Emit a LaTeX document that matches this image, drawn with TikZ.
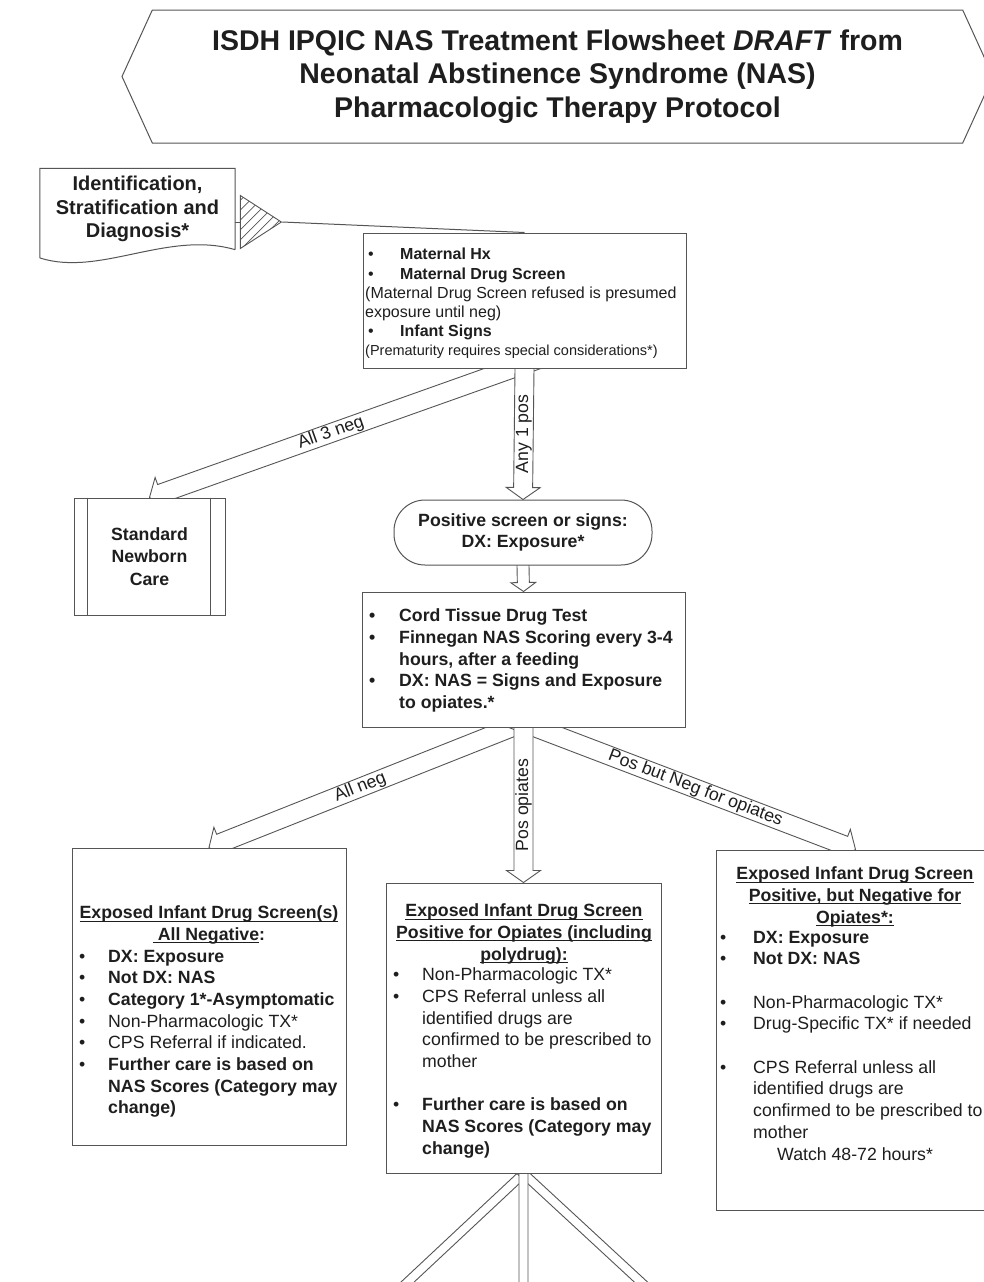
\documentclass[tikz,border=0pt]{standalone}
\usepackage{fontspec}
\setmainfont{Liberation Sans}
\usetikzlibrary{calc,backgrounds,shapes.geometric,shapes.symbols,patterns.meta}
\definecolor{ink}{HTML}{1E1E1E}
\definecolor{edge}{HTML}{555555}
\newcommand{\boxfont}{\fontsize{17.7pt}{21.7pt}\selectfont}
\newcommand{\bitem}[2][29pt]{\makebox[#1][l]{\textbullet}#2}
\newcommand{\bcont}[2][29pt]{\makebox[#1]{}#2}
\newlength{\ulwd}
\newcommand{\ul}[1]{\settowidth{\ulwd}{#1}\rlap{\rule[-3pt]{\ulwd}{1.1pt}}#1}
% wide hollow arrow: from, to, shaft half width, head half width, head length
\newcommand{\widearrow}[5]{%
  \coordinate (wabk) at ($(#1)!-40pt!(#2)$);
  \coordinate (wahd) at ($(#2)!#5!(#1)$);
  \draw[hollow] ($(wabk)!#3!90:(#2)$) -- ($(wahd)!#3!90:(#2)$)
    -- ($(wahd)!#4!90:(#2)$) -- (#2) -- ($(wahd)!#4!-90:(#2)$)
    -- ($(wahd)!#3!-90:(#2)$) -- ($(wabk)!#3!-90:(#2)$) -- cycle;}

\begin{document}
\begin{tikzpicture}[x=1pt,y=-1pt,
  box/.style={draw=edge,line width=1pt,fill=white,inner sep=0pt,text=ink},
  txt/.style={inner sep=0pt,align=left,text=ink,font=\boxfont},
  head/.style={inner sep=0pt,align=center,text=ink,font=\boxfont\bfseries},
  lbl/.style={inner sep=0pt,text=ink,font=\boxfont},
  hollow/.style={draw=edge,line width=0.9pt,fill=white,line join=miter},
  conn/.style={draw=edge,line width=1pt}]
\useasboundingbox (0,0) rectangle (984,1282);

% title banner
\node[box,shape=signal,signal to=west and east,signal pointer angle=131,
      minimum width=871pt,minimum height=133pt,align=center,
      font=\fontsize{28.5pt}{33.5pt}\selectfont\bfseries] (title) at (557.5,76.5)
  {ISDH IPQIC NAS Treatment Flowsheet \textit{DRAFT} from\\
   Neonatal Abstinence Syndrome (NAS)\\Pharmacologic Therapy Protocol};

% identification document and flag
\node[inner sep=0pt,minimum width=195pt,minimum height=81pt,align=center,text=ink,
      font=\fontsize{20pt}{23.5pt}\selectfont\bfseries] (idbox) at (137.5,209)
  {Identification,\\Stratification and\\Diagnosis*};
\draw[conn] (idbox.south east) -- (idbox.north east) -- (idbox.north west)
  -- (40,258) .. controls (100,277) and (168,230) .. (idbox.south east);
\node[draw=edge,line width=0.9pt,shape=isosceles triangle,isosceles triangle stretches,
      minimum width=53pt,minimum height=41pt,inner sep=0pt,anchor=lower side,
      pattern={Lines[angle=45,distance=7pt,line width=0.7pt]},pattern color=edge] (flag) at (240,222) {};

% maternal screening
\node[box,minimum width=323pt,minimum height=135pt] (mat) at (524.5,300.5) {};
\node[txt,anchor=north west,font=\fontsize{16pt}{19.2pt}\selectfont] (mattxt) at (365,248.2)
  {\makebox[3pt]{}\bitem[32pt]{\textbf{Maternal Hx}}\\
   \makebox[3pt]{}\bitem[32pt]{\textbf{Maternal Drug Screen}}\\
   (Maternal Drug Screen refused is presumed\\
   exposure until neg)\\
   \makebox[3pt]{}\bitem[32pt]{\textbf{Infant Signs}}\\
   {\fontsize{14.5pt}{19.2pt}\selectfont(Prematurity requires special considerations*)}};
\draw[conn] (flag.lower side -| idbox.east) -- (flag.lower side);
\draw[conn] (flag.apex) -- (mat.north);

% first outcomes
\node[box,minimum width=151pt,minimum height=117pt,align=center,
      font=\fontsize{17.7pt}{22.5pt}\selectfont\bfseries] (snc) at (149.5,556.5)
  {Standard\\Newborn\\Care};
\draw[conn] ([xshift=14pt]snc.north west) -- ([xshift=14pt]snc.south west);
\draw[conn] ([xshift=-15pt]snc.north east) -- ([xshift=-15pt]snc.south east);
\node[box,rounded corners=31pt,minimum width=258pt,minimum height=65pt,align=center,
      font=\boxfont\bfseries] (expo) at (523,532.5)
  {Positive screen or signs:\\DX: Exposure*};

% testing and scoring
\node[box,minimum width=323pt,minimum height=135pt] (cord) at (523.5,659.5) {};
\node[txt,anchor=north west,font=\boxfont\bfseries] (cordtxt) at (369,608.7)
  {\bitem[30pt]{Cord Tissue Drug Test}\\
   \bitem[30pt]{Finnegan NAS Scoring every 3-4}\\
   \bcont[30pt]{hours, after a feeding}\\
   \bitem[30pt]{DX: NAS = Signs and Exposure}\\
   \bcont[30pt]{to opiates.*}};

% all negative
\node[box,minimum width=274pt,minimum height=297pt] (negbox) at (209,996.5) {};
\node[head,anchor=north] (neghd) at (209,905.7)
  {\ul{Exposed Infant Drug Screen(s)}\\\ul{\ All Negative}:};
\node[txt,anchor=north west] (neglist) at (79,949.7)
  {\bitem{\textbf{DX: Exposure}}\\
   \bitem{\textbf{Not DX: NAS}}\\
   \bitem{\textbf{Category 1*-Asymptomatic}}\\
   \bitem{Non-Pharmacologic TX*}\\
   \bitem{CPS Referral if indicated.}\\
   \bitem{\textbf{Further care is based on}}\\
   \bcont{\textbf{NAS Scores (Category may}}\\
   \bcont{\textbf{change)}}};

% positive for opiates
\node[box,minimum width=275pt,minimum height=290pt] (opi) at (523.5,1028) {};
\node[head,anchor=north] (opihd) at (524,903.7)
  {\ul{Exposed Infant Drug Screen}\\\ul{Positive for Opiates (including}\\\ul{polydrug):}};
\node[txt,anchor=north west] (opilist) at (393,967.7)
  {\bitem{Non-Pharmacologic TX*}\\
   \bitem{CPS Referral unless all}\\
   \bcont{identified drugs are}\\
   \bcont{confirmed to be prescribed to}\\
   \bcont{mother}\\[21.7pt]
   \bitem{\textbf{Further care is based on}}\\
   \bcont{\textbf{NAS Scores (Category may}}\\
   \bcont{\textbf{change)}}};

% positive, not opiates
\node[box,minimum width=279pt,minimum height=360pt] (posneg) at (855.5,1030) {};
\node[head,anchor=north] (posneghd) at (855,866.7)
  {\ul{Exposed Infant Drug Screen}\\\ul{Positive, but Negative for}\\\ul{Opiates*:}};
\node[txt,anchor=north west] (posneglist) at (720,930.7)
  {\bitem[33pt]{\textbf{DX: Exposure}}\\
   \bitem[33pt]{\textbf{Not DX: NAS}}\\[21.7pt]
   \bitem[33pt]{Non-Pharmacologic TX*}\\
   \bitem[33pt]{Drug-Specific TX* if needed}\\[21.7pt]
   \bitem[33pt]{CPS Referral unless all}\\
   \bcont[33pt]{identified drugs are}\\
   \bcont[33pt]{confirmed to be prescribed to}\\
   \bcont[33pt]{mother}\\
   \bcont[57pt]{Watch 48-72 hours*}};

% arrow start points and ends running off the page
\coordinate (matl) at ([xshift=-12pt]mat.south);
\coordinate (cordl) at ([xshift=-12pt]cord.south);
\coordinate (cordr) at ([xshift=12pt]cord.south);
\coordinate (offl) at (367,1320);
\coordinate (offm) at (523.5,1320);
\coordinate (offr) at (682,1320);

\begin{scope}[on background layer]
\fill[white] (0,0) rectangle (984,1282);
\widearrow{matl}{snc.north}{9.5pt}{17pt}{12pt}
\widearrow{mat.south}{expo.north}{9.5pt}{17pt}{12pt}
\widearrow{expo.south}{cord.north}{6pt}{12.5pt}{9pt}
\widearrow{cordl}{negbox.north}{9.5pt}{17pt}{12pt}
\widearrow{cordr}{posneg.north}{9.5pt}{17pt}{12pt}
\widearrow{cord.south}{opi.north}{9.5pt}{17pt}{12pt}
\widearrow{opi.south}{offl}{4.5pt}{10pt}{10pt}
\widearrow{opi.south}{offr}{4.5pt}{10pt}{10pt}
\widearrow{opi.south}{offm}{4.5pt}{10pt}{10pt}
\end{scope}

\path (matl) -- (snc.north) node[lbl,midway,sloped] {All 3 neg};
\path (mat.south) -- (expo.north) node[lbl,midway,rotate=90] {Any 1 pos};
\path (cordl) -- (negbox.north) node[lbl,midway,sloped] {All neg};
\path (cord.south) -- (opi.north) node[lbl,midway,rotate=90] {Pos opiates};
\path (cordr) -- (posneg.north) node[lbl,midway,sloped] {Pos but Neg for opiates};
\end{tikzpicture}
\end{document}
